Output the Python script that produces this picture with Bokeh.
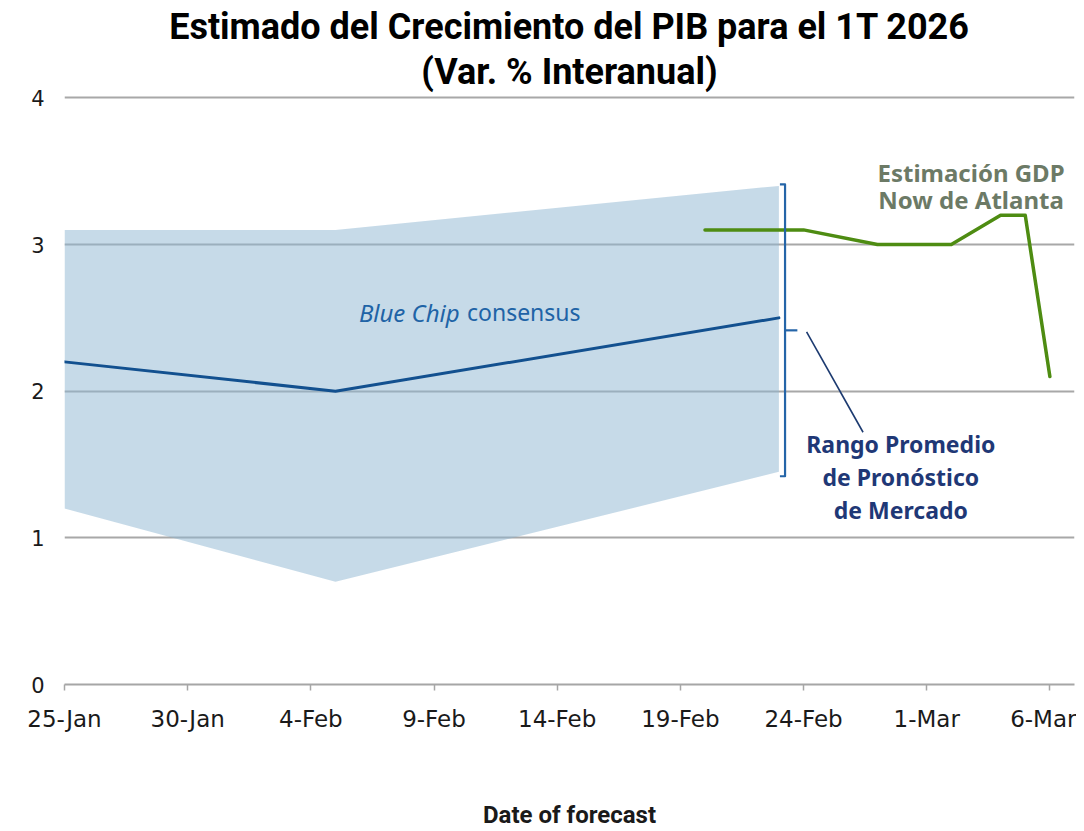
import pandas as pd
from bokeh.plotting import figure
from bokeh.models import FixedTicker, Range1d, Title, ColumnDataSource
from bokeh.core.properties import value
from bokeh.embed import file_html
from bokeh.resources import INLINE

# ---------------- data ----------------
title_line1 = "Estimado del Crecimiento del PIB para el 1T 2026"
title_line2 = "(Var. % Interanual)"
x_title = "Date of forecast"

band_dates = ["2026-01-25", "2026-02-05", "2026-02-23"]
band_upper = [3.1, 3.1, 3.4]
band_lower = [1.2, 0.7, 1.45]

consensus_dates = ["2026-01-25", "2026-02-05", "2026-02-23"]
consensus_vals = [2.2, 2.0, 2.5]

gdpnow_dates = ["2026-02-20", "2026-02-24", "2026-02-27", "2026-03-02",
                "2026-03-04", "2026-03-05", "2026-03-06"]
gdpnow_vals = [3.1, 3.1, 3.0, 3.0, 3.2, 3.2, 2.1]

tick_dates = ["2026-01-25", "2026-01-30", "2026-02-04", "2026-02-09", "2026-02-14",
              "2026-02-19", "2026-02-24", "2026-03-01", "2026-03-06"]
tick_labels = ["25-Jan", "30-Jan", "4-Feb", "9-Feb", "14-Feb",
               "19-Feb", "24-Feb", "1-Mar", "6-Mar"]
y_ticks = [0, 1, 2, 3, 4]

label_blue_chip = "Blue Chip"
label_consensus = "consensus"
label_range = ["Rango Promedio", "de Pronóstico", "de Mercado"]
label_gdpnow = ["Estimación GDP", "Now de Atlanta"]

# ---------------- helpers ----------------
def ts(s):
    return pd.Timestamp(s)

x_start = ts("2026-01-25")
x_end = ts("2026-03-07")

p = figure(
    x_axis_type="datetime",
    frame_width=1010, frame_height=591,
    min_border_left=64, min_border_right=2, min_border_top=93, min_border_bottom=143,
    x_range=Range1d(x_start, x_end), y_range=Range1d(0, 4.03),
    output_backend="svg", toolbar_location=None,
    background_fill_color="white", border_fill_color="white",
)
p.outline_line_color = None

# titles (first added is closest to the frame)
p.add_layout(Title(text=title_line2, align="center", text_font="Roboto",
                   text_font_style="bold", text_font_size="36px", text_color="#000000",
                   standoff=2), "above")
p.add_layout(Title(text=title_line1, align="center", text_font="Roboto",
                   text_font_style="bold", text_font_size="36px", text_color="#000000",
                   standoff=0), "above")

# grid
p.xgrid.visible = False
p.ygrid.ticker = FixedTicker(ticks=y_ticks[1:])
p.ygrid.grid_line_color = "#a8a8a8"
p.ygrid.grid_line_width = 2

# y axis
p.yaxis.ticker = FixedTicker(ticks=y_ticks)
p.yaxis.axis_line_color = None
p.yaxis.major_tick_line_color = None
p.yaxis.minor_tick_line_color = None
p.yaxis.major_label_standoff = 14
p.yaxis.major_label_text_font = "DejaVu Sans"
p.yaxis.major_label_text_font_size = "21px"
p.yaxis.major_label_text_color = "#1a1a1a"

# x axis
tick_ms = [int(ts(d).timestamp() * 1000) for d in tick_dates]
p.xaxis.ticker = FixedTicker(ticks=tick_ms)
p.xaxis.major_label_overrides = {k: lab for k, lab in zip(tick_ms, tick_labels)}
p.xaxis.axis_line_color = "#a6a6a6"
p.xaxis.axis_line_width = 2
p.xaxis.major_tick_line_color = "#a6a6a6"
p.xaxis.major_tick_line_width = 1.5
p.xaxis.major_tick_in = 0
p.xaxis.major_tick_out = 6
p.xaxis.minor_tick_line_color = None
p.xaxis.major_label_standoff = 15
p.xaxis.major_label_text_font = "DejaVu Sans"
p.xaxis.major_label_text_font_size = "23px"
p.xaxis.major_label_text_color = "#1a1a1a"
p.xaxis.axis_label = x_title
p.xaxis.axis_label_text_font = "Roboto"
p.xaxis.axis_label_text_font_style = "bold"
p.xaxis.axis_label_text_font_size = "24px"
p.xaxis.axis_label_text_color = "#1a1a1a"
p.xaxis.axis_label_standoff = 66

# band
band_src = ColumnDataSource(dict(x=pd.to_datetime(band_dates), lo=band_lower, hi=band_upper))
p.varea(x="x", y1="lo", y2="hi", source=band_src, fill_color="#8db6d2", fill_alpha=0.5)

# consensus line
p.line(pd.to_datetime(consensus_dates), consensus_vals, line_color="#12508f",
       line_width=3, line_join="round", line_cap="round")

# GDPNow line
p.line(pd.to_datetime(gdpnow_dates), gdpnow_vals, line_color="#4e8c12",
       line_width=3.5, line_join="round", line_cap="round")

# bracket at the end of the band
bx = ts(band_dates[-1]) + pd.Timedelta(hours=6)
b_top = band_upper[-1] + 0.01
b_bot = band_lower[-1] - 0.03
b_mid = (b_top + b_bot) / 2
hook = pd.Timedelta(hours=5)
p.line([bx - hook, bx, bx, bx - hook], [b_top, b_top, b_bot, b_bot],
       line_color="#2565a8", line_width=2.2, line_join="round")
p.line([bx, bx + pd.Timedelta(hours=12)], [b_mid, b_mid], line_color="#2565a8", line_width=2.2)

# leader line to the range label
p.line([bx + pd.Timedelta(hours=21), bx + pd.Timedelta(hours=76)], [b_mid - 0.01, 1.72],
       line_color="#1c3a70", line_width=1.6)

# texts
p.text(x=[x_start + pd.Timedelta(days=11.95)], y=[2.54], text=[label_blue_chip],
       text_font=value("Noto Sans"), text_font_style="italic", text_font_size="24px",
       text_color="#2063a6", text_align="left", text_baseline="middle")
p.text(x=[x_start + pd.Timedelta(days=20.95)], y=[2.54], text=[label_consensus],
       text_font=value("Noto Sans"), text_font_size="23px",
       text_color="#2063a6", text_align="right", text_baseline="middle")

rx = x_start + pd.Timedelta(days=33.95)
p.text(x=[rx] * 3, y=[1.64, 1.415, 1.19], text=label_range,
       text_font=value("Noto Sans"), text_font_style="bold", text_font_size="23px",
       text_color="#1f3876", text_align="center", text_baseline="middle")

gx = x_start + pd.Timedelta(days=36.8)
p.text(x=[gx] * 2, y=[3.49, 3.305], text=label_gdpnow,
       text_font=value("Noto Sans"), text_font_style="bold", text_font_size="24px",
       text_color="#6c7a66", text_align="center", text_baseline="middle")

open("out.html", "w").write(file_html(p, INLINE))
